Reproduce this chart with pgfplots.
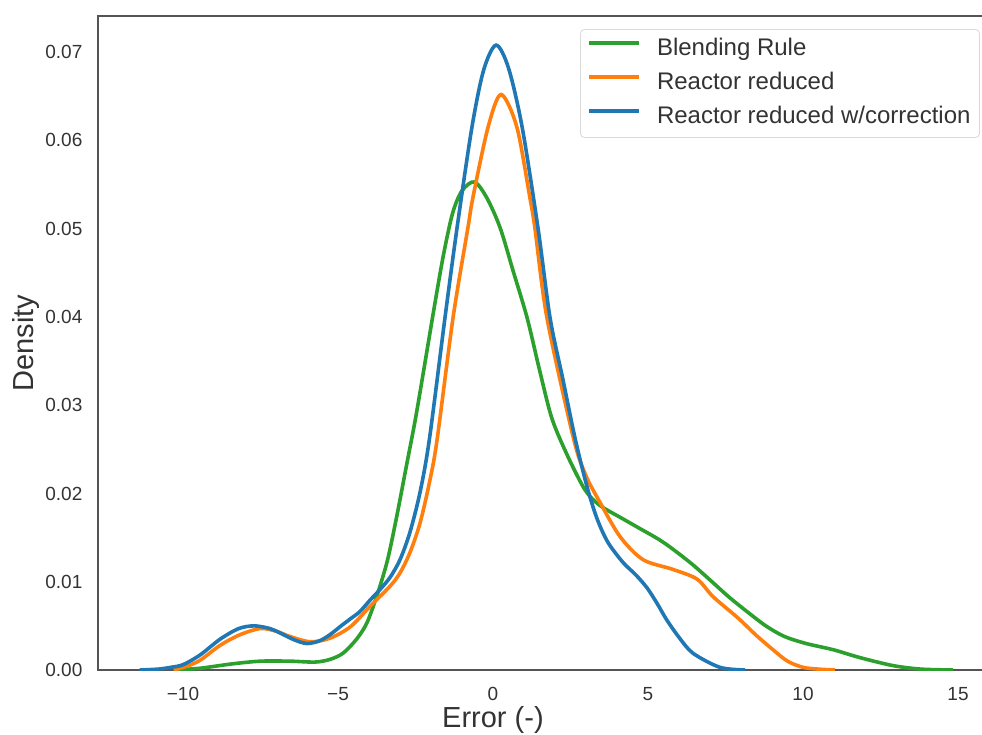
\documentclass[border=0pt]{standalone}
\usepackage{fontspec}
\setmainfont{Liberation Sans}
\usepackage{pgfplots}
\pgfplotsset{compat=1.18}

\definecolor{cgreen}{HTML}{2CA02C}
\definecolor{corange}{HTML}{FF7F0E}
\definecolor{cblue}{HTML}{1F77B4}
\definecolor{spine}{HTML}{555555}
\definecolor{txt}{HTML}{333333}

\begin{document}
\begin{tikzpicture}
\useasboundingbox (-49pt,-32.5pt) rectangle (442pt,335pt);
\clip (-49pt,-32.5pt) rectangle (442pt,335pt);
\begin{axis}[
	scale only axis, width=448pt, height=327pt,
	xmin=-12.742, xmax=16.16, ymin=0, ymax=0.0741,
	axis line style={spine, line width=1.2pt},
	major tick length=0pt,
	xtick={-10,-5,0,5,10,15}, xticklabels={−10,−5,0,5,10,15},
	ytick={0,0.01,0.02,0.03,0.04,0.05,0.06,0.07},
	yticklabels={0.00,0.01,0.02,0.03,0.04,0.05,0.06,0.07},
	tick label style={font=\fontsize{9.5}{11}\selectfont, text=txt},
	xticklabel style={yshift=-5pt},
	yticklabel style={xshift=-4.3pt},
	xlabel={Error (-)}, ylabel={Density},
	label style={font=\fontsize{14.5}{17}\selectfont, text=txt},
	xlabel style={at={(axis description cs:0.4408,-0.0765)}, anchor=center},
	ylabel style={at={(axis description cs:-0.080,0.5)}, anchor=center},
	legend style={at={(axis description cs:0.538,0.980)}, anchor=north west,
		draw=black!15, rounded corners=2pt, fill=white,
		font=\fontsize{12}{14}\selectfont, text=txt,
		inner sep=3.5pt, row sep=4pt, column sep=7pt,
		nodes={inner sep=1pt, text height=8.6pt, text depth=2.4pt},
		cells={anchor=west}},
	legend image code/.code={\draw[#1] (0pt,3.1pt) -- (25pt,3.1pt);},
	every axis plot/.append style={line width=1.8pt, smooth, tension=0.5},
]
% Blending Rule
\addplot[cgreen] coordinates {
(-10.3,0) (-9.45,0.0002) (-8.4,0.0007) (-7.5,0.0010) (-6.55,0.0010)
(-5.74,0.0009) (-5.26,0.0012) (-4.84,0.0019) (-4.4,0.0035) (-4.06,0.0054)
(-3.71,0.0088) (-3.4,0.0125) (-3.1,0.0175) (-2.8,0.0230) (-2.5,0.0285)
(-2.2,0.0347) (-1.9,0.0410) (-1.6,0.0470) (-1.3,0.0518) (-1.0,0.0543)
(-0.6,0.0553) (-0.2,0.0535) (0.23,0.0501) (0.65,0.0452) (1.1,0.0399)
(1.5,0.0340) (1.9,0.0285) (2.4,0.0243) (2.9,0.0208) (3.2,0.0194)
(3.55,0.0184) (4.1,0.0173) (4.65,0.0162) (5.48,0.0145) (6.35,0.0122)
(7.0,0.0102) (7.6,0.0083) (8.2,0.0066) (8.8,0.0050) (9.4,0.0038)
(10.1,0.0030) (10.97,0.0023) (11.84,0.0014) (12.9,0.0005) (13.8,0.0001)
(14.84,0)
};
\addlegendentry{Blending Rule}
% Reactor reduced
\addplot[corange] coordinates {
(-10.3,0) (-9.9,0.0004) (-9.45,0.0011) (-8.8,0.0028) (-8.16,0.0040)
(-7.5,0.0047) (-7.0,0.0044) (-6.55,0.0038) (-5.9,0.0032) (-5.26,0.0036)
(-4.6,0.0049) (-3.97,0.0072) (-3.32,0.0095) (-3.0,0.0110) (-2.68,0.0133)
(-2.35,0.0167) (-2.03,0.0216) (-1.8,0.0262) (-1.29,0.0399) (-0.81,0.0501)
(-0.65,0.0535) (-0.16,0.0615) (0.26,0.0652) (0.77,0.0615) (1.19,0.0535)
(1.35,0.0501) (1.74,0.0399) (2.6,0.0262) (3.0,0.0220) (3.45,0.0190)
(4.1,0.0151) (4.84,0.0125) (5.8,0.0114) (6.58,0.0103) (7.1,0.0083)
(7.9,0.0059) (8.5,0.0039) (9.03,0.0023) (9.5,0.0010) (10.0,0.0003)
(10.5,0.0001) (11.03,0)
};
\addlegendentry{Reactor reduced}
% Reactor reduced w/correction
\addplot[cblue] coordinates {
(-11.4,0) (-10.8,0.0001) (-10.4,0.0003) (-10.0,0.0006) (-9.45,0.0017)
(-8.8,0.0035) (-8.2,0.0047) (-7.7,0.0050) (-7.2,0.0047) (-6.87,0.0042)
(-6.4,0.0034) (-6.0,0.0030) (-5.6,0.0033) (-5.26,0.0040) (-4.9,0.0050)
(-4.6,0.0058) (-4.3,0.0066) (-3.97,0.0079) (-3.65,0.0091) (-3.32,0.0105)
(-3.0,0.0125) (-2.68,0.0156) (-2.35,0.0202) (-2.05,0.0262) (-1.55,0.0399)
(-1.16,0.0501) (-0.68,0.0615) (-0.3,0.0680) (0.1,0.0708) (0.5,0.0682)
(0.94,0.0615) (1.45,0.0501) (1.84,0.0399) (2.25,0.0330) (2.65,0.0262)
(3.03,0.0208) (3.35,0.0172) (3.7,0.0145) (4.19,0.0122) (4.6,0.0108)
(4.97,0.0093) (5.3,0.0075) (5.6,0.0057) (6.0,0.0037) (6.45,0.0019)
(7.32,0.0003) (8.13,0)
};
\addlegendentry{Reactor reduced w/correction}
\end{axis}
\end{tikzpicture}
\end{document}
